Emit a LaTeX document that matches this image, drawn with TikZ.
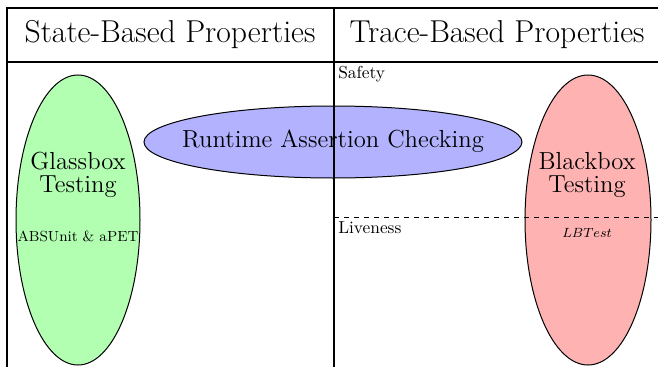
\documentclass[tikz,border=0pt]{standalone}
\begin{document}
\begin{tikzpicture}[x=0.6pt,y=-0.6pt,
    frame/.style={thick},
    blob/.style={semithick,draw=black},
    heading/.style={font=\fontsize{19}{22}\selectfont},
    method/.style={font=\fontsize{14.8}{14}\selectfont,align=center},
    tool/.style={font=\fontsize{8.8}{10}\selectfont},
    kind/.style={font=\fontsize{10.4}{12}\selectfont,anchor=west,inner sep=0pt}]
  \useasboundingbox (0,0) rectangle (658,367);

  % Ellipses
  \draw[blob,fill=green!30] (78,220)  ellipse [x radius=62, y radius=145];
  \draw[blob,fill=red!30]   (588,220) ellipse [x radius=63, y radius=145];
  \draw[blob,fill=blue!30]  (333,142) ellipse [x radius=189, y radius=36];

  % Table lines
  \coordinate (tl) at (7,8);
  \coordinate (tr) at (658,8);
  \coordinate (bl) at (7,367);
  \coordinate (hl) at (7,62);
  \coordinate (hr) at (658,62);
  \coordinate (mt) at (334,8);
  \coordinate (mb) at (334,367);
  \coordinate (dl) at (334,217);
  \coordinate (dr) at (658,217);
  \draw[frame] (tr) -- (tl) -- (bl);
  \draw[frame] (hl) -- (hr);
  \draw[frame] (mt) -- (mb);
  \draw[dashed] (dl) -- (dr);

  % Headings
  \node[heading] (state) at (170,35) {State-Based Properties};
  \node[heading] (trace) at (497,35) {Trace-Based Properties};
  \node[kind] (safety)   at (338,74)  {Safety};
  \node[kind] (liveness) at (338,228) {Liveness};

  % Methods and tools
  \node[method] (glassbox) at (78,175)  {Glassbox\\Testing};
  \node[tool]   (absunit)  at (78,236)  {ABSUnit \& aPET};
  \node[method] (blackbox) at (587,175) {Blackbox\\Testing};
  \node[tool,font=\fontsize{8}{10}\selectfont] (lbtest) at (587,233) {$LBTest$};
  \node[method] (rac)      at (333,141) {Runtime Assertion Checking};
\end{tikzpicture}
\end{document}
